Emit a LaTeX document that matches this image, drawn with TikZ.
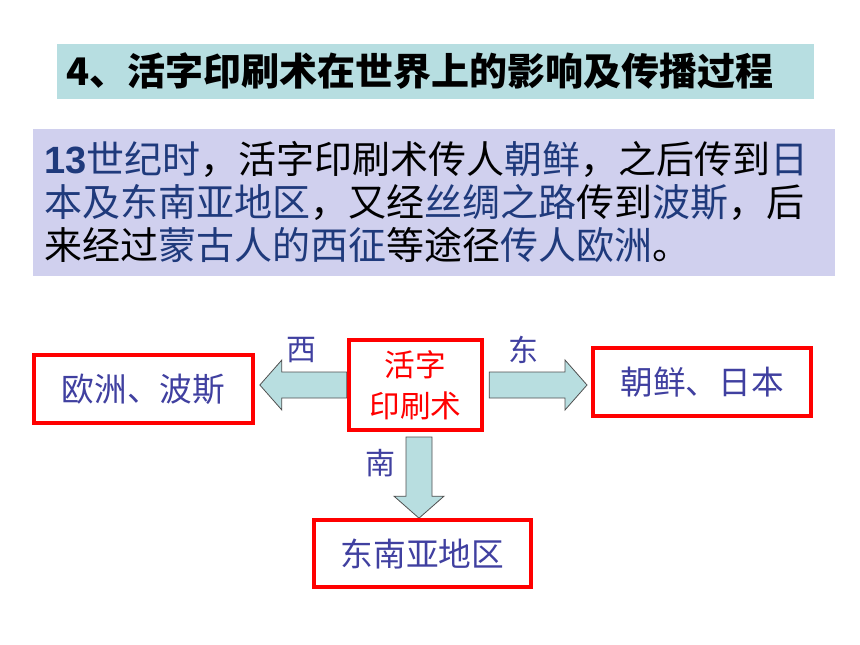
\documentclass[tikz,border=0pt]{standalone}
\usepackage{fontspec}
\setmainfont{Noto Sans CJK SC}
\newfontfamily\latinfont{Liberation Sans}
\usepackage{tikz}
\usetikzlibrary{calc}
\usetikzlibrary{backgrounds}
\definecolor{titlebg}{HTML}{B7DEE1}
\definecolor{parabg}{HTML}{D0D0EE}
\definecolor{navy}{HTML}{1F3A7C}
\definecolor{boxtext}{HTML}{4040A0}
\definecolor{arrowfill}{HTML}{B8DEE0}
\definecolor{arrowedge}{HTML}{505050}
\tikzset{place/.style={draw=red, line width=3pt, fill=white, inner sep=0pt, text=boxtext, font=\fontsize{24.5}{28}\selectfont},
%direction labels next to the arrows
compass/.style={text=boxtext, font=\fontsize{22.5}{26}\selectfont},
blockflow/.style={fill=arrowfill, draw=arrowedge, line width=0.6pt}}
\newcommand{\navytext}[1]{{\color{navy}#1}}
%block arrow from #1 to the tip #2
\newcommand{\blockarrow}[2]{%
  \coordinate (h) at ($(#2)!16.5pt!(#1)$);
  \draw[blockflow] ($(#1)!9.75pt!90:(#2)$) -- ($(h)!9.75pt!90:(#2)$) -- ($(h)!18.75pt!90:(#2)$) -- (#2)
    -- ($(h)!18.75pt!-90:(#2)$) -- ($(h)!9.75pt!-90:(#2)$) -- ($(#1)!9.75pt!-90:(#2)$) -- cycle;}

\begin{document}
\begin{tikzpicture}[x=0.75pt,y=-0.75pt]
\useasboundingbox (0,0) rectangle (860,645);
% heading and text
\node[fill=titlebg, minimum width=567.75pt, minimum height=41.25pt, text width=554pt, align=left, inner xsep=7pt,
  font=\fontsize{28.5}{32}\selectfont\bfseries] (title) at (435.5,71.5) {4、活字印刷术在世界上的影响及传播过程};
\node[fill=parabg, minimum width=601.5pt, minimum height=110.25pt, text width=584pt, align=left, inner xsep=8.75pt,
  font=\fontsize{28.5}{32.25}\selectfont] (story) at (434,202.5)
  {\navytext{{\latinfont\bfseries 13}世纪时}，活字印刷术传人\navytext{朝鲜}，之后传到\navytext{日}\\
   \navytext{本及东南亚地区}，又经\navytext{丝绸之路}传到\navytext{波斯}，后\\
   来经过\navytext{蒙古人的西征}等途径\navytext{传人欧洲}。};

% boxes
\node[place, minimum width=100pt, minimum height=67.5pt, align=center, text=red,
  font=\fontsize{23}{31}\selectfont] (core) at (415.5,385) {活字\\印刷术};
\node[place, minimum width=164pt, minimum height=51pt] (europe) at (143.5,389) {欧洲、波斯};
\node[place, minimum width=163.5pt, minimum height=51pt] (korea) at (702,382) {朝鲜、日本};
\node[place, minimum width=163pt, minimum height=50pt] (seasia) at (422.5,553.5) {东南亚地区};

%arrows
\coordinate (wstart) at (core.west);
\coordinate (wtip) at ($(wstart -| europe.east)+(5,0)$);
\coordinate (estart) at ($(core.east)+(5,0)$);
\coordinate (etip) at ($(estart -| korea.west)+(-4,0)$);
\coordinate (sstart) at ($(core.south)+(3.5,5)$);
\coordinate (stip) at (sstart |- seasia.north);
\begin{scope}[on background layer]
\blockarrow{wstart}{wtip}
\blockarrow{estart}{etip}
\blockarrow{sstart}{stip}
\end{scope}

\node[compass] (west) at (301,350) {西};
\node[compass] (east) at (523,350) {东};
\node[compass] (south) at (380,463) {南};
\end{tikzpicture}
\end{document}
